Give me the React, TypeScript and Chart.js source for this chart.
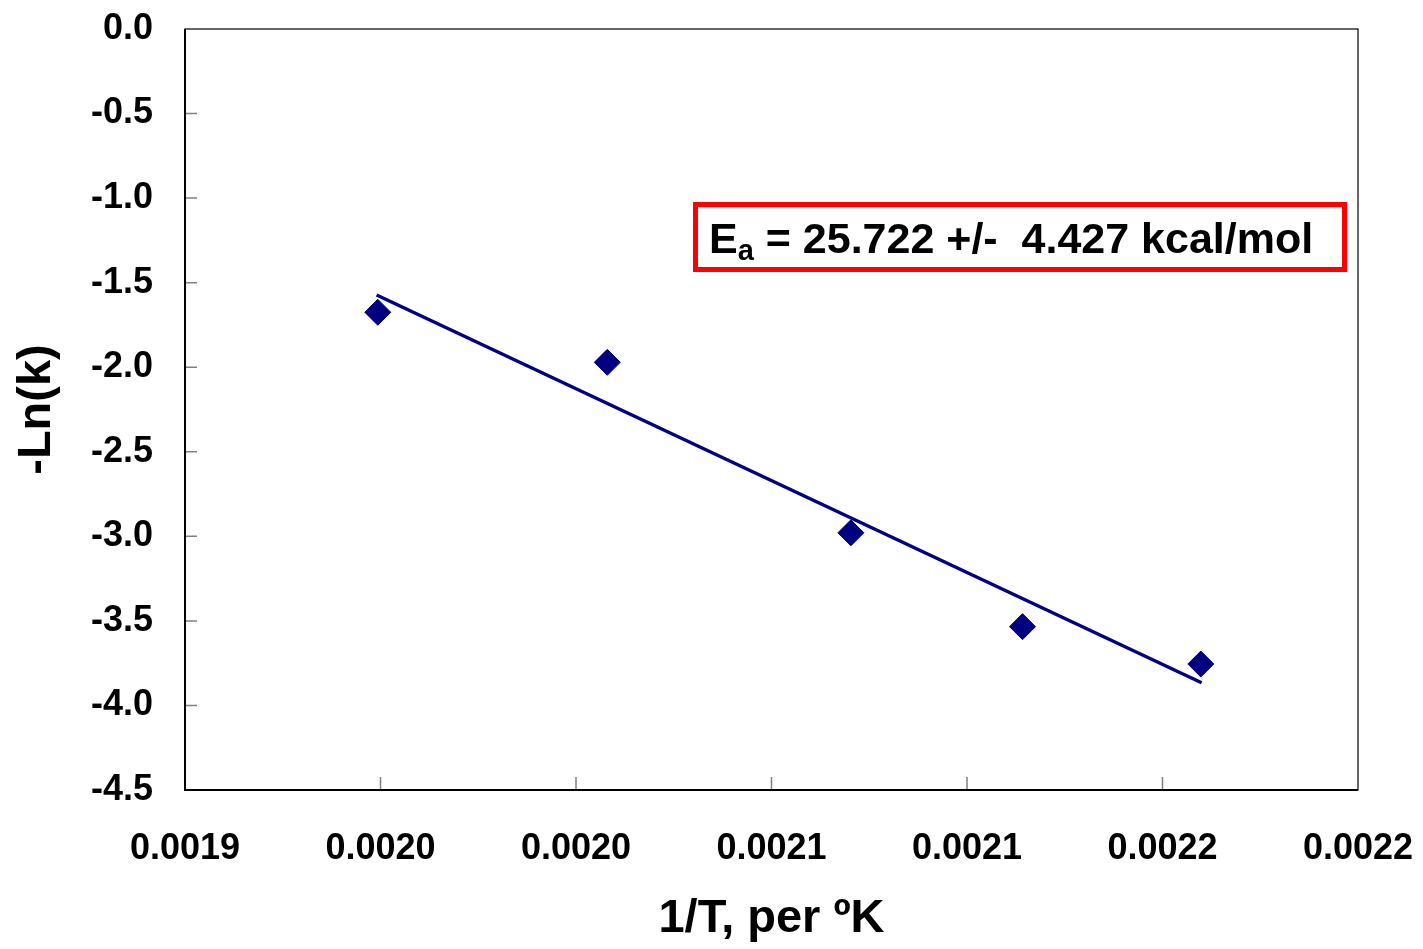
import React, { useEffect, useRef } from "react";
import { Chart, registerables } from "chart.js";

Chart.register(...registerables);

// Data
const invT: number[] = [0.0019493, 0.002008, 0.0020703, 0.0021142, 0.0021598];
const negLnK: number[] = [-1.675, -1.971, -2.979, -3.534, -3.755];
const fitX: number[] = [0.001949, 0.00216];
const fitY: number[] = [-1.573, -3.866];

const xTickValues: number[] = [0.0019, 0.00195, 0.002, 0.00205, 0.0021, 0.00215, 0.0022];
const xTickLabels: string[] = ["0.0019", "0.0020", "0.0020", "0.0021", "0.0021", "0.0022", "0.0022"];
const yTickValues: number[] = [0, -0.5, -1, -1.5, -2, -2.5, -3, -3.5, -4, -4.5];
const yTickLabels: string[] = ["0.0", "-0.5", "-1.0", "-1.5", "-2.0", "-2.5", "-3.0", "-3.5", "-4.0", "-4.5"];

const xTitle = "1/T, per \u00BAK";
const yTitle = "-Ln(k)";
const annMain = "E";
const annSub = "a";
const annRest = " = 25.722 +/-  4.427 kcal/mol";

const FONT = "'Liberation Sans', Arial, Helvetica, sans-serif";
const NAVY = "#000080";

const framePlugin = {
  id: "framePlugin",
  afterDraw(chart: any) {
    const { ctx, chartArea } = chart;
    const { left, right, top, bottom } = chartArea;
    const xs = chart.scales.x;
    const ys = chart.scales.y;
    ctx.save();
    // tick marks (inside)
    ctx.strokeStyle = "#808080";
    ctx.lineWidth = 1.5;
    ctx.beginPath();
    for (const v of yTickValues) {
      const py = ys.getPixelForValue(v);
      if (Math.abs(py - top) < 1 || Math.abs(py - bottom) < 1) continue;
      ctx.moveTo(left, py);
      ctx.lineTo(left + 12, py);
    }
    for (const v of xTickValues) {
      const px = xs.getPixelForValue(v);
      if (Math.abs(px - left) < 1 || Math.abs(px - right) < 1) continue;
      ctx.moveTo(px, bottom);
      ctx.lineTo(px, bottom - 13);
    }
    ctx.stroke();
    // frame
    ctx.strokeStyle = "#000";
    ctx.lineWidth = 1.2;
    ctx.strokeRect(left, top, right - left, bottom - top);
    ctx.lineWidth = 2;
    ctx.beginPath();
    ctx.moveTo(left, top);
    ctx.lineTo(left, bottom);
    ctx.lineTo(right, bottom);
    ctx.stroke();

    // annotation box
    ctx.strokeStyle = "#FF0000";
    ctx.lineWidth = 5;
    ctx.strokeRect(695.5, 204.5, 649, 65);
    ctx.fillStyle = "#000";
    ctx.textBaseline = "alphabetic";
    ctx.textAlign = "left";
    let x = 709;
    const base = 253;
    ctx.font = `bold 43px ${FONT}`;
    ctx.fillText(annMain, x, base);
    x += ctx.measureText(annMain).width;
    ctx.font = `bold 29px ${FONT}`;
    ctx.fillText(annSub, x, base + 7);
    x += ctx.measureText(annSub).width;
    ctx.font = `bold 43px ${FONT}`;
    ctx.fillText(annRest, x, base);
    ctx.restore();
  },
};

export default function App() {
  const canvasRef = useRef<HTMLCanvasElement | null>(null);

  useEffect(() => {
    if (!canvasRef.current) return;
    const chart = new Chart(canvasRef.current, {
      type: "scatter",
      data: {
        datasets: [
          {
            type: "line",
            label: "fit",
            data: fitX.map((x, i) => ({ x, y: fitY[i] })),
            borderColor: NAVY,
            borderWidth: 3.5,
            pointRadius: 0,
            fill: false,
            showLine: true,
            order: 2,
          } as any,
          {
            label: "data",
            data: invT.map((x, i) => ({ x, y: negLnK[i] })),
            pointStyle: "rectRot",
            pointRadius: 13,
            pointHoverRadius: 13,
            backgroundColor: NAVY,
            borderColor: NAVY,
            borderWidth: 1,
            order: 1,
          },
        ],
      },
      options: {
        animation: false,
        responsive: true,
        maintainAspectRatio: false,
        events: [],
        layout: { padding: { top: 29, right: 65, left: 0, bottom: 0 } },
        plugins: {
          legend: { display: false },
          tooltip: { enabled: false },
        },
        scales: {
          x: {
            type: "linear",
            min: 0.0019,
            max: 0.0022,
            afterBuildTicks: (scale: any) => {
              scale.ticks = xTickValues.map((v) => ({ value: v }));
            },
            afterFit: (scale: any) => {
              scale.height = 159;
              scale.paddingLeft = 0;
              scale.paddingRight = 0;
              scale.paddingTop = 0;
              scale.paddingBottom = 0;
            },
            grid: { display: false, drawTicks: false, tickLength: 0 },
            border: { display: false },
            ticks: {
              padding: 37,
              maxRotation: 0,
              autoSkip: false,
              color: "#000",
              font: { family: FONT, size: 36, weight: "bold" },
              callback: (_v: any, i: number) => xTickLabels[i],
            },
            title: {
              display: true,
              text: xTitle,
              color: "#000",
              font: { family: FONT, size: 47, weight: "bold", lineHeight: 1 },
              padding: { top: 0, bottom: 6 },
            },
          },
          y: {
            type: "linear",
            min: -4.5,
            max: 0,
            afterBuildTicks: (scale: any) => {
              scale.ticks = yTickValues.map((v) => ({ value: v }));
            },
            afterFit: (scale: any) => {
              scale.width = 185;
              scale.paddingLeft = 0;
              scale.paddingRight = 0;
              scale.paddingTop = 0;
              scale.paddingBottom = 0;
            },
            grid: { display: false, drawTicks: false, tickLength: 0 },
            border: { display: false },
            ticks: {
              padding: 32,
              autoSkip: false,
              color: "#000",
              font: { family: FONT, size: 36, weight: "bold" },
              callback: (v: any) => {
                const i = yTickValues.findIndex((t) => Math.abs(t - v) < 1e-9);
                return i >= 0 ? yTickLabels[i] : "";
              },
            },
            title: {
              display: true,
              text: yTitle,
              color: "#000",
              font: { family: FONT, size: 47, weight: "bold", lineHeight: 1 },
              padding: { top: 14, bottom: 0 },
            },
          },
        },
      },
      plugins: [framePlugin],
    } as any);
    return () => chart.destroy();
  }, []);

  return (
    <div style={{ position: "fixed", left: 0, top: 0, width: 1423, height: 949, background: "#fff" }}>
      <canvas ref={canvasRef} />
    </div>
  );
}
